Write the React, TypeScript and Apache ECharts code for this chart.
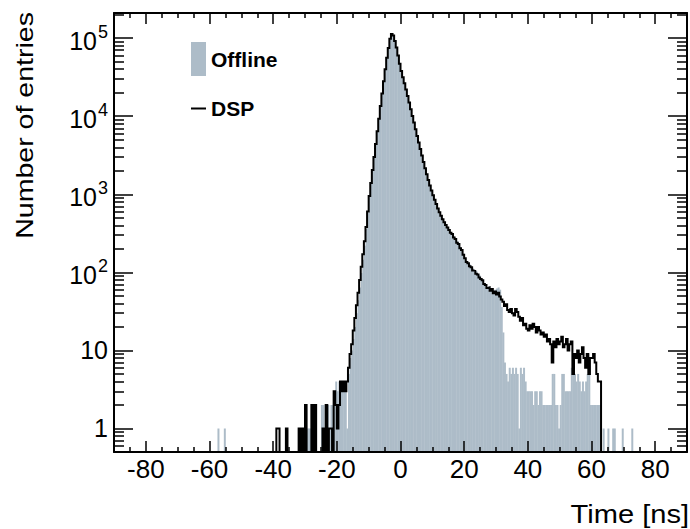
import React, { useEffect, useRef } from 'react';
import * as echarts from 'echarts';

// Histogram binning (ns)
const BIN_START = -60;
const BIN_WIDTH = 0.5;

// Axis ranges
const X_MIN = -90;
const X_MAX = 90;
const Y_MIN = 0.5;
const Y_MAX = 2.1e5;

const SERIES_NAMES = ['Offline', 'DSP'];
const X_TITLE = 'Time [ns]';
const Y_TITLE = 'Number of entries';

// DSP time, entries per 0.5 ns bin, from -60 ns (10 bins = 5 ns per row)
const DSP: number[] = [
  0, 0, 0, 0, 0, 0, 0, 0, 0, 0,
  0, 0, 0, 0, 0, 0, 0, 0, 0, 0,
  0, 0, 0, 0, 0, 0, 0, 0, 0, 0,
  0, 0, 0, 0, 0, 0, 0, 0, 0, 0,
  0, 0, 1, 1, 0, 0, 0, 0, 1, 0,
  0, 0, 0, 0, 0, 0, 1, 0, 1, 0,
  2, 0, 0, 0, 2, 0, 2, 0, 0, 0,
  0, 1, 0, 2, 0, 1, 1, 0, 3, 2,
  1, 2, 4, 3, 4, 3, 4, 6, 9, 12,
  18, 26, 38, 55, 80, 118, 170, 250, 380, 600,
  950, 1400, 2050, 3000, 4400, 6400, 9300, 13500, 19500, 28000,
  40000, 56000, 75000, 98000, 113000, 108000, 92000, 76000, 60000, 47000,
  38000, 31500, 26500, 22000, 18200, 15000, 12300, 10100, 8300, 6800,
  5600, 4600, 3800, 3150, 2600, 2150, 1800, 1520, 1300, 1120,
  970, 850, 750, 660, 590, 530, 480, 440, 405, 375,
  350, 322, 309, 280, 268, 240, 230, 204, 193, 168,
  152, 136, 131, 120, 116, 106, 104, 96, 94, 86,
  82, 79, 71, 69, 63, 64, 58, 61, 54, 57,
  52, 55, 49, 45, 42, 37, 39, 33, 31, 34,
  30, 28, 34, 31, 27, 24, 26, 21, 22, 19,
  18, 21, 19, 22, 20, 17, 20, 18, 16, 17,
  15, 16, 13, 14, 12, 7, 13, 11, 14, 12,
  13, 15, 11, 12, 14, 10, 12, 13, 5, 9,
  8, 10, 7, 9, 11, 8, 6, 9, 5, 8,
  8, 9, 7, 5, 4, 4, 0, 0, 0, 0,
  0, 0, 0, 0, 0, 0, 0, 0, 0, 0,
  0, 0, 0, 0, 0, 0, 0, 0, 0, 0,
];

// Offline time, entries per 0.5 ns bin, from -60 ns
const OFFLINE: number[] = [
  0, 0, 0, 0, 0, 1, 0, 0, 0, 1,
  0, 0, 0, 0, 0, 0, 0, 0, 0, 0,
  0, 0, 0, 0, 0, 0, 0, 0, 0, 0,
  0, 0, 0, 0, 0, 0, 0, 0, 0, 0,
  0, 0, 0, 0, 0, 0, 0, 0, 0, 0,
  0, 0, 0, 0, 0, 0, 0, 1, 0, 1,
  0, 1, 1, 1, 0, 0, 0, 0, 0, 0,
  2, 2, 1, 2, 2, 1, 2, 2, 3, 4,
  3, 4, 3, 3, 4, 3, 1, 5, 8, 10,
  14, 20, 30, 44, 64, 98, 145, 220, 360, 580,
  940, 1400, 2050, 3000, 4400, 6400, 9300, 13500, 19500, 28000,
  40000, 56000, 75000, 98000, 113000, 108000, 92000, 76000, 60000, 47000,
  38000, 31500, 26500, 22000, 18200, 15000, 12300, 10100, 8300, 6800,
  5600, 4650, 3850, 3150, 2650, 2150, 1820, 1540, 1300, 1130,
  980, 860, 750, 670, 590, 540, 480, 445, 410, 378,
  352, 330, 305, 290, 262, 250, 226, 210, 190, 174,
  150, 140, 128, 126, 114, 112, 102, 104, 92, 92,
  84, 80, 72, 70, 64, 66, 58, 63, 56, 60,
  62, 64, 60, 36, 17, 7, 5, 4, 6, 5,
  6, 5, 6, 5, 1, 6, 5, 6, 4, 3,
  3, 3, 3, 2, 3, 3, 2, 3, 3, 2,
  2, 2, 2, 2, 2, 5, 5, 2, 2, 1,
  2, 5, 5, 3, 3, 3, 3, 6, 6, 5,
  4, 5, 4, 3, 4, 3, 4, 5, 5, 2,
  2, 2, 2, 2, 2, 2, 0, 1, 0, 0,
  1, 0, 0, 1, 1, 0, 0, 0, 0, 1,
  0, 0, 0, 0, 0, 1, 0, 0, 0, 0,
];

const FONT = '"Liberation Sans", Arial, Helvetica, sans-serif';
const GRAY = '#adbcc8';
const BLACK = '#000000';

export default function App() {
  const ref = useRef<HTMLDivElement>(null);

  useEffect(() => {
    if (!ref.current) return;
    const chart = echarts.init(ref.current, null, { renderer: 'svg' });

    const offlineData = OFFLINE.map((v, i) => [
      BIN_START + i * BIN_WIDTH,
      BIN_START + (i + 1) * BIN_WIDTH,
      v,
    ]).filter((d) => d[2] > 0);

    const dspLine: number[][] = DSP.map((v, i) => [
      BIN_START + i * BIN_WIDTH,
      v > 0 ? v : Y_MIN,
    ]);
    dspLine.push([BIN_START + DSP.length * BIN_WIDTH, Y_MIN]);

    const tickLine = { color: BLACK, width: 1.5 };
    const axisLine = { show: true, onZero: false, lineStyle: { color: BLACK, width: 2 } };

    const yLabelFormatter = (v: number) => {
      const e = Math.round(Math.log10(v));
      const p = Math.pow(10, e);
      if (Math.abs(v - p) > 1e-6 * p) return '';
      if (e === 0) return '{p|1}';
      if (e === 1) return '{p|10}';
      return '{b|10}{s|' + e + '}';
    };

    const xCommon = {
      type: 'value' as const,
      min: X_MIN,
      max: X_MAX,
      splitNumber: 9,
      minInterval: 20,
      maxInterval: 20,
      axisLine,
      axisTick: { show: true, inside: true, length: 11, lineStyle: tickLine },
      minorTick: { show: true, splitNumber: 4, length: 5, lineStyle: tickLine },
      splitLine: { show: false },
      minorSplitLine: { show: false },
      z: 10,
    };

    const yCommon = {
      type: 'log' as const,
      logBase: 10,
      min: Y_MIN,
      max: Y_MAX,
      axisLine,
      axisTick: { show: true, inside: true, length: 19, lineStyle: tickLine },
      minorTick: { show: true, splitNumber: 9, length: 10, lineStyle: tickLine },
      splitLine: { show: false },
      minorSplitLine: { show: false },
      z: 10,
    };

    chart.setOption({
      animation: false,
      backgroundColor: '#ffffff',
      textStyle: { fontFamily: FONT },
      grid: { left: 114, right: 2, top: 13, bottom: 77, containLabel: false },
      legend: [
        {
          data: [{ name: SERIES_NAMES[0], icon: 'rect' }],
          left: 191,
          top: 42,
          padding: 0,
          itemWidth: 15,
          itemHeight: 34,
          itemGap: 0,
          selectedMode: false,
          textStyle: { fontFamily: FONT, fontSize: 21, fontWeight: 'bold', color: BLACK },
        },
        {
          data: [{ name: SERIES_NAMES[1], icon: 'rect' }],
          left: 191,
          top: 98,
          padding: 0,
          itemWidth: 15,
          itemHeight: 2,
          itemGap: 0,
          selectedMode: false,
          textStyle: { fontFamily: FONT, fontSize: 21, fontWeight: 'bold', color: BLACK },
        },
      ],
      xAxis: [
        {
          ...xCommon,
          position: 'bottom',
          axisLabel: {
            show: true,
            margin: 4,
            fontFamily: FONT,
            fontSize: 26,
            color: BLACK,
            formatter: (v: number) => (Math.abs(v) >= 90 ? '' : String(v)),
          },
        },
        {
          ...xCommon,
          position: 'top',
          axisLabel: { show: false },
        },
      ],
      yAxis: [
        {
          ...yCommon,
          position: 'left',
          axisLabel: {
            show: true,
            margin: 6,
            color: BLACK,
            fontFamily: FONT,
            formatter: yLabelFormatter,
            rich: {
              p: { fontFamily: FONT, fontSize: 25, color: BLACK },
              b: { fontFamily: FONT, fontSize: 25, color: BLACK, verticalAlign: 'bottom' },
              s: {
                fontFamily: FONT,
                fontSize: 18,
                color: BLACK,
                verticalAlign: 'bottom',
                padding: [0, 0, 12, 1],
              },
            },
          },
        },
        {
          ...yCommon,
          position: 'right',
          axisLabel: { show: false },
        },
      ],
      graphic: [
        {
          type: 'text',
          x: 25,
          y: 12,
          rotation: Math.PI / 2,
          scaleX: 1.19,
          silent: true,
          style: {
            text: Y_TITLE,
            fontFamily: FONT,
            fontSize: 24,
            fill: BLACK,
            align: 'right',
            verticalAlign: 'middle',
            textAlign: 'right',
            textVerticalAlign: 'middle',
          },
        },
        {
          type: 'text',
          x: 689,
          y: 514,
          scaleX: 1.14,
          silent: true,
          style: {
            text: X_TITLE,
            fontFamily: FONT,
            fontSize: 25.5,
            fill: BLACK,
            align: 'right',
            verticalAlign: 'middle',
            textAlign: 'right',
            textVerticalAlign: 'middle',
          },
        },
      ],
      series: [
        {
          name: SERIES_NAMES[0],
          type: 'custom',
          xAxisIndex: 0,
          yAxisIndex: 0,
          itemStyle: { color: GRAY },
          encode: { x: [0, 1], y: 2 },
          data: offlineData,
          z: 2,
          silent: true,
          renderItem: (params: any, api: any) => {
            const v = api.value(2) as number;
            if (!(v > 0)) return null;
            const p0 = api.coord([api.value(0), v]);
            const p1 = api.coord([api.value(1), Y_MIN]);
            return {
              type: 'rect',
              shape: {
                x: p0[0],
                y: p0[1],
                width: p1[0] - p0[0] + 0.4,
                height: p1[1] - p0[1],
              },
              style: { fill: GRAY },
            };
          },
        },
        {
          name: SERIES_NAMES[1],
          type: 'line',
          xAxisIndex: 0,
          yAxisIndex: 0,
          step: 'end',
          data: dspLine,
          showSymbol: false,
          symbol: 'none',
          color: BLACK,
          itemStyle: { color: BLACK },
          lineStyle: { color: BLACK, width: 2, join: 'miter', cap: 'butt' },
          clip: true,
          silent: true,
          z: 3,
        },
      ],
    });

    return () => {
      chart.dispose();
    };
  }, []);

  return (
    <div
      ref={ref}
      style={{ position: 'fixed', left: 0, top: 0, width: 690, height: 529, background: '#fff' }}
    />
  );
}
